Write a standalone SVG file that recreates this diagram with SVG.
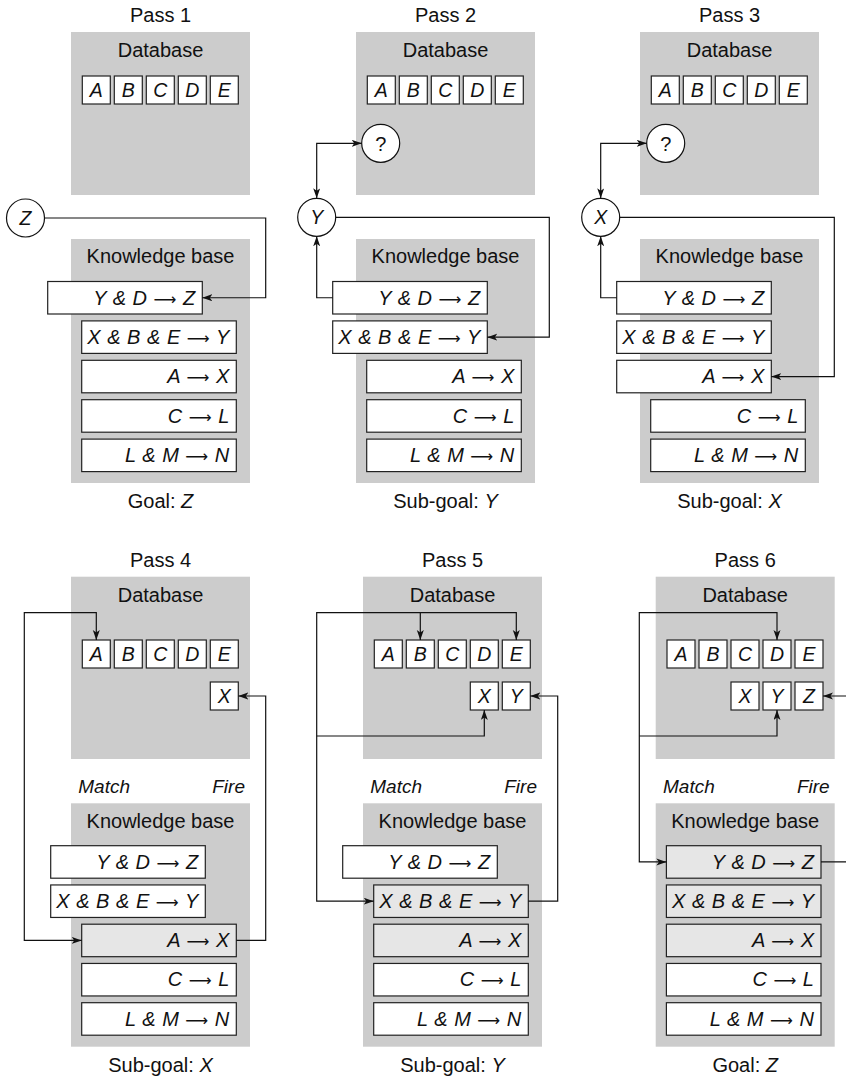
<svg xmlns="http://www.w3.org/2000/svg" width="846" height="1077" viewBox="0 0 846 1077">
<style>
.panel{fill:#cccccc}
.cell{fill:#fff;stroke:#222;stroke-width:1.2}
.rule{fill:#fff;stroke:#222;stroke-width:1.2}
.hl{fill:#e6e6e6}
.circ{fill:#fff;stroke:#111;stroke-width:1.2}
text{font-family:'Liberation Sans',Arial,sans-serif;fill:#111}
.lbl{font-size:20px;text-anchor:middle}
.it{font-style:italic}
.cl{font-size:19.5px;font-style:italic;text-anchor:middle}
.rt{font-size:20px;font-style:italic;text-anchor:end;word-spacing:1px}
.ar{font-family:'DejaVu Sans',sans-serif;font-style:normal;font-size:16px}
.mf{font-size:19px;font-style:italic}
.conn{fill:none;stroke:#111;stroke-width:1.2}
.arr{marker-end:url(#ah)}
.arr2{marker-start:url(#ah);marker-end:url(#ah)}
</style>
<defs>
<marker id="ah" markerUnits="userSpaceOnUse" markerWidth="11" markerHeight="8" refX="10" refY="3.5" orient="auto-start-reverse">
<path d="M0,0 L10,3.5 L0,7 L2.5,3.5 z" fill="#111"/>
</marker>
</defs>

<!-- ===== Pass 1 ===== -->
<g id="pass1">
<text class="lbl" x="160.5" y="22">Pass 1</text>
<g id="p1-db">
<rect class="panel" x="71" y="32" width="179" height="163"/>
<text class="lbl" x="160.5" y="57">Database</text>
<rect class="cell" x="82.3" y="76" width="28" height="28"/><text class="cl" x="96.3" y="97">A</text>
<rect class="cell" x="114.3" y="76" width="28" height="28"/><text class="cl" x="128.3" y="97">B</text>
<rect class="cell" x="146.3" y="76" width="28" height="28"/><text class="cl" x="160.3" y="97">C</text>
<rect class="cell" x="178.3" y="76" width="28" height="28"/><text class="cl" x="192.3" y="97">D</text>
<rect class="cell" x="210.3" y="76" width="28" height="28"/><text class="cl" x="224.3" y="97">E</text>
</g>
<g id="p1-kb">
<rect class="panel" x="71" y="239" width="179" height="244"/>
<text class="lbl" x="160.5" y="263">Knowledge base</text>
</g>
<g id="p1-r1"><rect class="rule" x="47.7" y="281.5" width="154.6" height="32.5"/><text class="rt" x="195.3" y="304.5">Y &amp; D <tspan class="ar">⟶</tspan> Z</text></g>
<g id="p1-r2"><rect class="rule" x="81.7" y="320.9" width="154.6" height="32.5"/><text class="rt" x="229.3" y="343.9">X &amp; B &amp; E <tspan class="ar">⟶</tspan> Y</text></g>
<g id="p1-r3"><rect class="rule" x="81.7" y="360.3" width="154.6" height="32.5"/><text class="rt" x="229.3" y="383.3">A <tspan class="ar">⟶</tspan> X</text></g>
<g id="p1-r4"><rect class="rule" x="81.7" y="399.7" width="154.6" height="32.5"/><text class="rt" x="229.3" y="422.7">C <tspan class="ar">⟶</tspan> L</text></g>
<g id="p1-r5"><rect class="rule" x="81.7" y="439.1" width="154.6" height="32.5"/><text class="rt" x="229.3" y="462.1">L &amp; M <tspan class="ar">⟶</tspan> N</text></g>
<g id="p1-goal"><circle class="circ" cx="25.5" cy="218" r="19"/><text class="cl" x="25.5" y="225">Z</text></g>
<text class="lbl" x="160.5" y="508">Goal: <tspan class="it">Z</tspan></text>
</g>

<!-- ===== Pass 2 ===== -->
<g id="pass2">
<text class="lbl" x="445.5" y="22">Pass 2</text>
<g id="p2-db">
<rect class="panel" x="356" y="32" width="179" height="163"/>
<text class="lbl" x="445.5" y="57">Database</text>
<rect class="cell" x="367.3" y="76" width="28" height="28"/><text class="cl" x="381.3" y="97">A</text>
<rect class="cell" x="399.3" y="76" width="28" height="28"/><text class="cl" x="413.3" y="97">B</text>
<rect class="cell" x="431.3" y="76" width="28" height="28"/><text class="cl" x="445.3" y="97">C</text>
<rect class="cell" x="463.3" y="76" width="28" height="28"/><text class="cl" x="477.3" y="97">D</text>
<rect class="cell" x="495.3" y="76" width="28" height="28"/><text class="cl" x="509.3" y="97">E</text>
</g>
<g id="p2-q"><circle class="circ" cx="380.7" cy="143.3" r="19"/><text class="lbl" x="380.7" y="150.5">?</text></g>
<g id="p2-kb">
<rect class="panel" x="356" y="239" width="179" height="244"/>
<text class="lbl" x="445.5" y="263">Knowledge base</text>
</g>
<g id="p2-r1"><rect class="rule" x="332.7" y="281.5" width="154.6" height="32.5"/><text class="rt" x="480.3" y="304.5">Y &amp; D <tspan class="ar">⟶</tspan> Z</text></g>
<g id="p2-r2"><rect class="rule" x="332.7" y="320.9" width="154.6" height="32.5"/><text class="rt" x="480.3" y="343.9">X &amp; B &amp; E <tspan class="ar">⟶</tspan> Y</text></g>
<g id="p2-r3"><rect class="rule" x="366.7" y="360.3" width="154.6" height="32.5"/><text class="rt" x="514.3" y="383.3">A <tspan class="ar">⟶</tspan> X</text></g>
<g id="p2-r4"><rect class="rule" x="366.7" y="399.7" width="154.6" height="32.5"/><text class="rt" x="514.3" y="422.7">C <tspan class="ar">⟶</tspan> L</text></g>
<g id="p2-r5"><rect class="rule" x="366.7" y="439.1" width="154.6" height="32.5"/><text class="rt" x="514.3" y="462.1">L &amp; M <tspan class="ar">⟶</tspan> N</text></g>
<g id="p2-goal"><circle class="circ" cx="316.7" cy="217.3" r="19"/><text class="cl" x="316.7" y="224.3">Y</text></g>
<text class="lbl" x="445.5" y="508">Sub-goal: <tspan class="it">Y</tspan></text>
</g>

<!-- ===== Pass 3 ===== -->
<g id="pass3">
<text class="lbl" x="729.5" y="22">Pass 3</text>
<g id="p3-db">
<rect class="panel" x="640" y="32" width="179" height="163"/>
<text class="lbl" x="729.5" y="57">Database</text>
<rect class="cell" x="651.3" y="76" width="28" height="28"/><text class="cl" x="665.3" y="97">A</text>
<rect class="cell" x="683.3" y="76" width="28" height="28"/><text class="cl" x="697.3" y="97">B</text>
<rect class="cell" x="715.3" y="76" width="28" height="28"/><text class="cl" x="729.3" y="97">C</text>
<rect class="cell" x="747.3" y="76" width="28" height="28"/><text class="cl" x="761.3" y="97">D</text>
<rect class="cell" x="779.3" y="76" width="28" height="28"/><text class="cl" x="793.3" y="97">E</text>
</g>
<g id="p3-q"><circle class="circ" cx="665.7" cy="143.3" r="19"/><text class="lbl" x="665.7" y="150.5">?</text></g>
<g id="p3-kb">
<rect class="panel" x="640" y="239" width="179" height="244"/>
<text class="lbl" x="729.5" y="263">Knowledge base</text>
</g>
<g id="p3-r1"><rect class="rule" x="616.7" y="281.5" width="154.6" height="32.5"/><text class="rt" x="764.3" y="304.5">Y &amp; D <tspan class="ar">⟶</tspan> Z</text></g>
<g id="p3-r2"><rect class="rule" x="616.7" y="320.9" width="154.6" height="32.5"/><text class="rt" x="764.3" y="343.9">X &amp; B &amp; E <tspan class="ar">⟶</tspan> Y</text></g>
<g id="p3-r3"><rect class="rule" x="616.7" y="360.3" width="154.6" height="32.5"/><text class="rt" x="764.3" y="383.3">A <tspan class="ar">⟶</tspan> X</text></g>
<g id="p3-r4"><rect class="rule" x="650.7" y="399.7" width="154.6" height="32.5"/><text class="rt" x="798.3" y="422.7">C <tspan class="ar">⟶</tspan> L</text></g>
<g id="p3-r5"><rect class="rule" x="650.7" y="439.1" width="154.6" height="32.5"/><text class="rt" x="798.3" y="462.1">L &amp; M <tspan class="ar">⟶</tspan> N</text></g>
<g id="p3-goal"><circle class="circ" cx="600.7" cy="217.3" r="19"/><text class="cl" x="600.7" y="224.3">X</text></g>
<text class="lbl" x="729.5" y="508">Sub-goal: <tspan class="it">X</tspan></text>
</g>

<!-- ===== Pass 4 ===== -->
<g id="pass4">
<text class="lbl" x="160.5" y="567">Pass 4</text>
<g id="p4-db">
<rect class="panel" x="71" y="576.7" width="179" height="182.3"/>
<text class="lbl" x="160.5" y="601.7">Database</text>
<rect class="cell" x="82.3" y="640" width="28" height="28"/><text class="cl" x="96.3" y="661">A</text>
<rect class="cell" x="114.3" y="640" width="28" height="28"/><text class="cl" x="128.3" y="661">B</text>
<rect class="cell" x="146.3" y="640" width="28" height="28"/><text class="cl" x="160.3" y="661">C</text>
<rect class="cell" x="178.3" y="640" width="28" height="28"/><text class="cl" x="192.3" y="661">D</text>
<rect class="cell" x="210.3" y="640" width="28" height="28"/><text class="cl" x="224.3" y="661">E</text>
<rect class="cell" x="210.3" y="682" width="28" height="28"/><text class="cl" x="224.3" y="703">X</text>
</g>
<text class="mf" x="78.3" y="793">Match</text>
<text class="mf" x="245" y="793" text-anchor="end">Fire</text>
<g id="p4-kb">
<rect class="panel" x="71" y="803.3" width="179" height="243.4"/>
<text class="lbl" x="160.5" y="828.3">Knowledge base</text>
</g>
<g id="p4-r1"><rect class="rule" x="50.7" y="845.7" width="154.6" height="32.5"/><text class="rt" x="198.3" y="868.7">Y &amp; D <tspan class="ar">⟶</tspan> Z</text></g>
<g id="p4-r2"><rect class="rule" x="50.7" y="884.95" width="154.6" height="32.5"/><text class="rt" x="198.3" y="907.95">X &amp; B &amp; E <tspan class="ar">⟶</tspan> Y</text></g>
<g id="p4-r3"><rect class="rule hl" x="81.7" y="924.2" width="154.6" height="32.5"/><text class="rt" x="229.3" y="947.2">A <tspan class="ar">⟶</tspan> X</text></g>
<g id="p4-r4"><rect class="rule" x="81.7" y="963.45" width="154.6" height="32.5"/><text class="rt" x="229.3" y="986.45">C <tspan class="ar">⟶</tspan> L</text></g>
<g id="p4-r5"><rect class="rule" x="81.7" y="1002.7" width="154.6" height="32.5"/><text class="rt" x="229.3" y="1025.7">L &amp; M <tspan class="ar">⟶</tspan> N</text></g>
<text class="lbl" x="160.5" y="1072">Sub-goal: <tspan class="it">X</tspan></text>
</g>

<!-- ===== Pass 5 ===== -->
<g id="pass5">
<text class="lbl" x="452.5" y="567">Pass 5</text>
<g id="p5-db">
<rect class="panel" x="363" y="576.7" width="179" height="182.3"/>
<text class="lbl" x="452.5" y="601.7">Database</text>
<rect class="cell" x="374.3" y="640" width="28" height="28"/><text class="cl" x="388.3" y="661">A</text>
<rect class="cell" x="406.3" y="640" width="28" height="28"/><text class="cl" x="420.3" y="661">B</text>
<rect class="cell" x="438.3" y="640" width="28" height="28"/><text class="cl" x="452.3" y="661">C</text>
<rect class="cell" x="470.3" y="640" width="28" height="28"/><text class="cl" x="484.3" y="661">D</text>
<rect class="cell" x="502.3" y="640" width="28" height="28"/><text class="cl" x="516.3" y="661">E</text>
<rect class="cell" x="470.3" y="682" width="28" height="28"/><text class="cl" x="484.3" y="703">X</text>
<rect class="cell" x="502.3" y="682" width="28" height="28"/><text class="cl" x="516.3" y="703">Y</text>
</g>
<text class="mf" x="370.3" y="793">Match</text>
<text class="mf" x="537" y="793" text-anchor="end">Fire</text>
<g id="p5-kb">
<rect class="panel" x="363" y="803.3" width="179" height="243.4"/>
<text class="lbl" x="452.5" y="828.3">Knowledge base</text>
</g>
<g id="p5-r1"><rect class="rule" x="342.7" y="845.7" width="154.6" height="32.5"/><text class="rt" x="490.3" y="868.7">Y &amp; D <tspan class="ar">⟶</tspan> Z</text></g>
<g id="p5-r2"><rect class="rule hl" x="373.7" y="884.95" width="154.6" height="32.5"/><text class="rt" x="521.3" y="907.95">X &amp; B &amp; E <tspan class="ar">⟶</tspan> Y</text></g>
<g id="p5-r3"><rect class="rule hl" x="373.7" y="924.2" width="154.6" height="32.5"/><text class="rt" x="521.3" y="947.2">A <tspan class="ar">⟶</tspan> X</text></g>
<g id="p5-r4"><rect class="rule" x="373.7" y="963.45" width="154.6" height="32.5"/><text class="rt" x="521.3" y="986.45">C <tspan class="ar">⟶</tspan> L</text></g>
<g id="p5-r5"><rect class="rule" x="373.7" y="1002.7" width="154.6" height="32.5"/><text class="rt" x="521.3" y="1025.7">L &amp; M <tspan class="ar">⟶</tspan> N</text></g>
<text class="lbl" x="452.5" y="1072">Sub-goal: <tspan class="it">Y</tspan></text>
</g>

<!-- ===== Pass 6 ===== -->
<g id="pass6">
<text class="lbl" x="745.2" y="567">Pass 6</text>
<g id="p6-db">
<rect class="panel" x="655.7" y="576.7" width="179" height="182.3"/>
<text class="lbl" x="745.2" y="601.7">Database</text>
<rect class="cell" x="667" y="640" width="28" height="28"/><text class="cl" x="681" y="661">A</text>
<rect class="cell" x="699" y="640" width="28" height="28"/><text class="cl" x="713" y="661">B</text>
<rect class="cell" x="731" y="640" width="28" height="28"/><text class="cl" x="745" y="661">C</text>
<rect class="cell" x="763" y="640" width="28" height="28"/><text class="cl" x="777" y="661">D</text>
<rect class="cell" x="795" y="640" width="28" height="28"/><text class="cl" x="809" y="661">E</text>
<rect class="cell" x="731" y="682" width="28" height="28"/><text class="cl" x="745" y="703">X</text>
<rect class="cell" x="763" y="682" width="28" height="28"/><text class="cl" x="777" y="703">Y</text>
<rect class="cell" x="795" y="682" width="28" height="28"/><text class="cl" x="809" y="703">Z</text>
</g>
<text class="mf" x="663" y="793">Match</text>
<text class="mf" x="829.7" y="793" text-anchor="end">Fire</text>
<g id="p6-kb">
<rect class="panel" x="655.7" y="803.3" width="179" height="243.4"/>
<text class="lbl" x="745.2" y="828.3">Knowledge base</text>
</g>
<g id="p6-r1"><rect class="rule hl" x="666.4" y="845.7" width="154.6" height="32.5"/><text class="rt" x="814" y="868.7">Y &amp; D <tspan class="ar">⟶</tspan> Z</text></g>
<g id="p6-r2"><rect class="rule hl" x="666.4" y="884.95" width="154.6" height="32.5"/><text class="rt" x="814" y="907.95">X &amp; B &amp; E <tspan class="ar">⟶</tspan> Y</text></g>
<g id="p6-r3"><rect class="rule hl" x="666.4" y="924.2" width="154.6" height="32.5"/><text class="rt" x="814" y="947.2">A <tspan class="ar">⟶</tspan> X</text></g>
<g id="p6-r4"><rect class="rule" x="666.4" y="963.45" width="154.6" height="32.5"/><text class="rt" x="814" y="986.45">C <tspan class="ar">⟶</tspan> L</text></g>
<g id="p6-r5"><rect class="rule" x="666.4" y="1002.7" width="154.6" height="32.5"/><text class="rt" x="814" y="1025.7">L &amp; M <tspan class="ar">⟶</tspan> N</text></g>
<text class="lbl" x="745.2" y="1072">Goal: <tspan class="it">Z</tspan></text>
</g>

<!-- ===== Connectors ===== -->
<g id="connectors">
<path class="conn arr" d="M44.5,218 H265.7 V297.75 H202.3"/>
<path class="conn arr2" d="M316.7,198.3 V143.3 H361.7"/>
<path class="conn arr" d="M332.7,297.75 H316.7 V236.3"/>
<path class="conn arr" d="M335.7,217.3 H549.3 V337.15 H487.3"/>
<path class="conn arr2" d="M600.7,198.3 V143.3 H646.7"/>
<path class="conn arr" d="M616.7,297.75 H600.7 V236.3"/>
<path class="conn arr" d="M619.7,217.3 H834.3 V376.55 H771.3"/>

<path class="conn arr2" d="M96.3,640 V612.7 H24.3 V940.45 H81.7"/>
<path class="conn arr" d="M236.3,940.45 H265.7 V696 H238.3"/>

<path class="conn arr2" d="M420.3,640 V612.7 H316.7 V901.2 H373.7"/>
<path class="conn" style="marker-start:url(#ah)" d="M516.3,640 V612.7 H420.3"/>
<path class="conn arr" d="M316.7,736 H484.3 V710"/>
<path class="conn arr" d="M528.3,901.2 H557.7 V696 H530.3"/>

<path class="conn arr2" d="M777,640 V612.7 H639.3 V861.95 H666.4"/>
<path class="conn arr" d="M639.3,736 H777 V710"/>
<path class="conn arr" d="M821,861.95 H850 V696 H823"/>
</g>
</svg>
